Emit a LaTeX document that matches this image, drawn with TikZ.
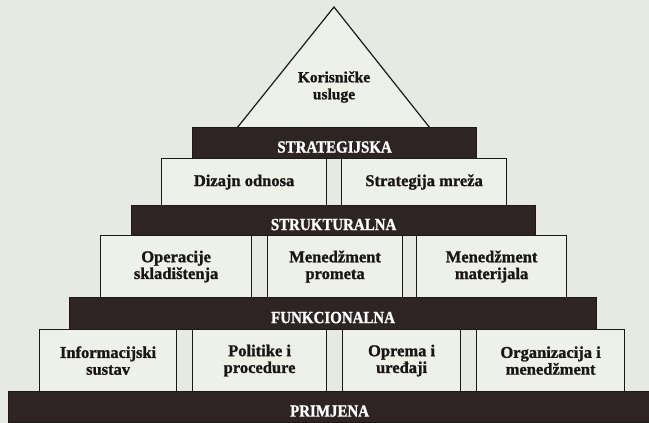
\documentclass[tikz,border=0pt]{standalone}
\usepackage{fontspec}
\setmainfont{Liberation Serif}
\newfontfamily\heavyfont[BoldFeatures={FakeBold=1.2}]{Liberation Serif}
\newfontfamily\barfont[FakeStretch=0.88,BoldFeatures={FakeBold=1.2}]{Liberation Serif}
\definecolor{bg}{HTML}{E7EAE3}
\definecolor{boxfill}{HTML}{EEF0EA}
\definecolor{barfill}{HTML}{2E2423}
\definecolor{edge}{HTML}{1C1818}
\definecolor{ink}{HTML}{1A1616}
\begin{document}
\begin{tikzpicture}[x=1pt,y=-1pt,
  box/.style={draw=edge, line width=1.2pt, fill=boxfill, anchor=north west,
    inner sep=0pt, align=center, text=ink,
    font=\heavyfont\bfseries\fontsize{16.5}{16.8}\selectfont},
  bar/.style={draw=edge, line width=1.2pt, fill=barfill, anchor=north west,
    inner sep=0pt, text=white, text height=20pt, text depth=1pt,
    font=\barfont\bfseries\fontsize{17}{17}\selectfont},
  toptext/.style={align=center, text=ink, inner sep=0pt,
    font=\heavyfont\bfseries\fontsize{15.5}{17}\selectfont}
]
\fill[bg] (0,0) rectangle (649,423);
\useasboundingbox (0,0) rectangle (649,423);

% apex
\draw[draw=edge, line width=1.2pt, fill=boxfill, line join=miter]
  (334,7) -- (430,128) -- (237,128) -- cycle;
\node[toptext] (top) at (334,87) {Korisničke\\usluge};

% strategic level
\node[bar, minimum width=284pt, minimum height=31pt] (b1) at (192,127) {STRATEGIJSKA};
\node[box, minimum width=165pt, minimum height=47pt] (s1) at (161,158) {Dizajn odnosa};
\node[box, minimum width=165pt, minimum height=47pt] (s2) at (341,158) {Strategija mreža};

% structural level
\node[bar, minimum width=404pt, minimum height=30pt] (b2) at (131,205) {STRUKTURALNA};
\node[box, minimum width=151pt, minimum height=62pt] (t1) at (100,235) {Operacije\\skladištenja};
\node[box, minimum width=135pt, minimum height=62pt] (t2) at (267,235) {Menedžment\\prometa};
\node[box, minimum width=150pt, minimum height=62pt] (t3) at (416,235) {Menedžment\\materijala};

% functional level
\node[bar, minimum width=527pt, minimum height=32pt] (b3) at (69,297) {FUNKCIONALNA};
\node[box, minimum width=137pt, minimum height=62pt] (f1) at (39,329) {Informacijski\\sustav};
\node[box, minimum width=134pt, minimum height=62pt] (f2) at (192,329) {Politike i\\procedure};
\node[box, minimum width=118pt, minimum height=62pt] (f3) at (342,329) {Oprema i\\uređaji};
\node[box, minimum width=148pt, minimum height=62pt] (f4) at (476,329) {Organizacija i\\menedžment};

% implementation level
\node[bar, minimum width=650pt, minimum height=31pt] (b4) at (8,391) {\hspace*{-8pt}PRIMJENA};
\end{tikzpicture}
\end{document}
